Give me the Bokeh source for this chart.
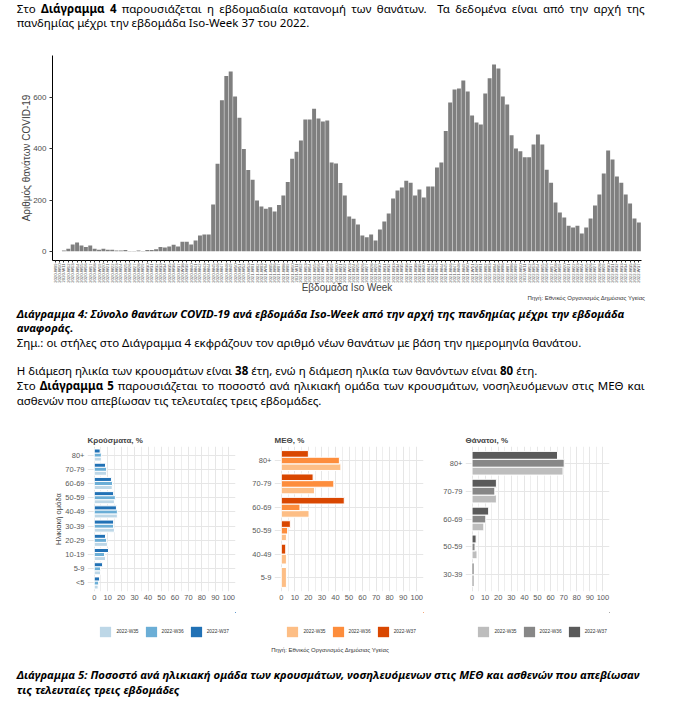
import math
from bokeh.plotting import figure
from bokeh.models import (FactorRange, Range1d, FixedTicker, ColumnDataSource, Div,
                          Legend, LegendItem)
from bokeh.layouts import column, row
from bokeh.embed import file_html
from bokeh.resources import INLINE

# ---------------- data: weekly deaths ----------------
years = [2020, 2021, 2022]
first_week = {2020: 9, 2021: 1, 2022: 1}
last_week = {2020: 53, 2021: 52, 2022: 37}
weeks = [f"{y}-W{w:02d}" for y in years for w in range(first_week[y], last_week[y] + 1)]

deaths = [0, 0,
          3, 10, 26, 34, 22, 16, 22, 10, 6, 10, 6, 6, 3, 3, 5, 1, 1, 3, 1, 5,
          5, 8, 16, 14, 18, 25, 18, 37, 37, 26, 42, 61, 65, 65, 183, 342, 590, 685,
          703, 605, 522, 400, 318, 279, 198, 175, 166, 172, 155, 181, 218, 271, 362, 389,
          433, 515, 515, 557, 519, 507, 511, 347, 343, 267, 218, 136, 127, 104, 61, 55,
          65, 42, 85, 116, 147, 206, 237, 249, 276, 268, 218, 241, 210, 253, 253, 327,
          347, 470, 582, 632, 636, 668, 625, 531, 503, 496, 617, 676, 730, 715, 605, 574,
          453, 402, 391, 367, 367, 417, 456, 417, 319, 268, 190, 151, 132, 100, 93, 100,
          69, 93, 128, 179, 222, 304, 394, 359, 292, 268, 222, 187, 128, 112]

# ---------------- data: age distributions (top -> bottom) ----------------
week_labels = ["2022-W35", "2022-W36", "2022-W37"]

cases_ages = ["80+", "70-79", "60-69", "50-59", "40-49", "30-39", "20-29", "10-19", "5-9", "<5"]
cases_w35 = [5.3, 9.2, 13.4, 15.0, 17.2, 15.0, 9.8, 8.4, 4.7, 2.9]
cases_w36 = [5.3, 9.2, 13.6, 15.7, 17.2, 14.4, 9.2, 7.7, 4.7, 3.3]
cases_w37 = [4.4, 8.4, 12.8, 14.4, 16.5, 14.4, 8.4, 10.6, 6.2, 4.0]

icu_ages = ["80+", "70-79", "60-69", "50-59", "40-49", "5-9"]
icu_w35 = [44.0, 24.5, 20.5, 3.8, 3.8, 3.8]
icu_w36 = [42.9, 38.8, 13.8, 4.7, None, None]
icu_w37 = [20.0, 23.5, 46.5, 6.7, 3.3, None]

death_ages = ["80+", "70-79", "60-69", "50-59", "30-39"]
death_w35 = [69.5, 18.6, 9.0, 3.8, None]
death_w36 = [70.4, 17.4, 10.5, 2.3, 1.5]
death_w37 = [65.3, 18.6, 12.7, 3.1, 1.5]

blues = ["#bdd7e7", "#6baed6", "#2171b5"]
oranges = ["#fdbe85", "#fd8d3c", "#d94701"]
greys = ["#bdbdbd", "#878787", "#5a5a5a"]

CHART_FONT = "Liberation Sans"
BODY_FONT = "'Noto Sans', sans-serif"
W = 692


# ---------------- text helpers ----------------
def txt(s, cy, top0, x=16.7, size=11.5, bold=False, italic=False, width=None,
        align="left", lh=12, family=BODY_FONT, color="#000"):
    st = ["position:absolute", f"left:{x:.1f}px", f"top:{cy - top0 - lh / 2:.1f}px",
          f"font-family:{family}", f"font-size:{size}px", f"line-height:{lh}px",
          f"color:{color}", "margin:0", "padding:0"]
    if bold:
        st.append("font-weight:bold")
    if italic:
        st.append("font-style:italic")
    if width is not None:
        st.append(f"width:{width}px")
    if align == "justify":
        st.append("text-align:justify;text-align-last:justify")
    else:
        st.append(f"text-align:{align};white-space:nowrap")
    return f'<div style="{";".join(st)}">{s}</div>'


def block(lines, h):
    html = (f'<div style="position:relative;width:{W}px;height:{h}px;overflow:visible">'
            + "".join(lines) + "</div>")
    return Div(text=html, width=W, height=h, margin=0)


# ---------------- top paragraph (page y 0-36) ----------------
d1_top, d1_h = 0, 36
div1 = block([
    txt("Στο <b>Διάγραμμα 4</b> παρουσιάζεται η εβδομαδιαία κατανομή των θανάτων.&nbsp; "
        "Τα δεδομένα είναι από την αρχή της", 9, d1_top, width=628, align="justify"),
    txt("πανδημίας μέχρι την εβδομάδα Iso-Week 37 του 2022.", 23, d1_top),
], d1_h)

# ---------------- main weekly chart (page y 36-300) ----------------
p = figure(width=W, height=264,
           x_range=FactorRange(factors=weeks, range_padding=0.1, range_padding_units="absolute"),
           y_range=Range1d(-36.4, 765.4),
           output_backend="svg", toolbar_location=None,
           min_border_left=52, min_border_right=51, min_border_top=19, min_border_bottom=40)
p.vbar(x="week", top="deaths", width=0.9,
       source=ColumnDataSource(dict(week=weeks, deaths=deaths)),
       fill_color="#7f7f7f", line_color=None)
p.outline_line_color = None
p.grid.grid_line_color = None

xa = p.xaxis[0]
xa.major_label_orientation = math.pi / 2
xa.major_label_text_font = CHART_FONT
xa.major_label_text_font_size = "4.2px"
xa.major_label_text_color = "#4d4d4d"
xa.major_label_standoff = 1
xa.major_tick_out = 2
xa.major_tick_in = 0
xa.major_tick_line_color = "#333333"
xa.axis_line_color = "black"
xa.axis_label = "Εβδομάδα Iso Week"
xa.axis_label_text_font = CHART_FONT
xa.axis_label_text_font_size = "10px"
xa.axis_label_text_font_style = "normal"
xa.axis_label_standoff = -4

ya = p.yaxis[0]
ya.ticker = FixedTicker(ticks=[0, 200, 400, 600])
ya.minor_tick_line_color = None
ya.major_tick_out = 3
ya.major_tick_in = 0
ya.major_tick_line_color = "#333333"
ya.axis_line_color = "black"
ya.major_label_text_font = CHART_FONT
ya.major_label_text_font_size = "8px"
ya.major_label_text_color = "#4d4d4d"
ya.major_label_standoff = 3
ya.axis_label = "Αριθμός θανάτων COVID-19"
ya.axis_label_text_font = CHART_FONT
ya.axis_label_text_font_size = "10px"
ya.axis_label_text_font_style = "normal"
ya.axis_label_standoff = -2

# ---------------- middle paragraphs (page y 300-420) ----------------
d2_top, d2_h = 300, 120
src_txt = "Πηγή: Εθνικός Οργανισμός Δημόσιας Υγείας"
div2 = block([
    txt(src_txt, 298, d2_top, x=445, width=200, align="right", size=6, lh=7,
        family=f"'{CHART_FONT}'", color="#333"),
    txt("Διάγραμμα 4: Σύνολο θανάτων COVID-19 ανά εβδομάδα Iso-Week από την αρχή της "
        "πανδημίας μέχρι την εβδομάδα", 313.5, d2_top, size=11.3, bold=True, italic=True),
    txt("αναφοράς.", 327.5, d2_top, size=11.3, bold=True, italic=True),
    txt("Σημ.: οι στήλες στο Διάγραμμα 4 εκφράζουν τον αριθμό νέων θανάτων με βάση την "
        "ημερομηνία θανάτου.", 343, d2_top),
    txt("Η διάμεση ηλικία των κρουσμάτων είναι <b>38</b> έτη, ενώ η διάμεση ηλικία των "
        "θανόντων είναι <b>80</b> έτη.", 370.5, d2_top),
    txt("Στο <b>Διάγραμμα 5</b> παρουσιάζεται το ποσοστό ανά ηλικιακή ομάδα των κρουσμάτων, "
        "νοσηλευόμενων στις ΜΕΘ και", 385.5, d2_top, width=628, align="justify"),
    txt("ασθενών που απεβίωσαν τις τελευταίες τρεις εβδομάδες.", 400.5, d2_top),
], d2_h)

# ---------------- small charts (page y 420-612) + legends (612-645) ----------------
GW = 0.85


def small(title, ages, s35, s36, s37, colors, width, mb_left, mb_right, ylabel=None):
    n = len(ages)
    f = figure(width=width, height=192, x_range=Range1d(-5, 105),
               y_range=Range1d(0.4, n + 0.6),
               output_backend="svg", toolbar_location=None,
               min_border_left=mb_left, min_border_right=mb_right,
               min_border_top=26, min_border_bottom=21)
    series = [s35, s36, s37]
    data = [dict(y=[], h=[], v=[]) for _ in range(3)]
    for i in range(n):
        vals = [s[i] for s in series]
        present = [k for k in range(3) if vals[k] is not None]
        m = len(present)
        for j, k in enumerate(present):
            data[k]["y"].append(n - i - GW / 2 + GW / m * (j + 0.5))
            data[k]["h"].append(GW / m)
            data[k]["v"].append(vals[k])
    sources = [ColumnDataSource(d) for d in data]
    for k in range(3):
        f.hbar(y="y", height="h", left=0, right="v", source=sources[k],
               fill_color=colors[k], line_color="white", line_width=1)

    f.outline_line_color = None
    f.title.text = title
    f.title.text_font = CHART_FONT
    f.title.text_font_size = "8px"
    f.title.text_font_style = "bold"
    f.title.align = "left"
    f.title.standoff = 3

    xa = f.xaxis[0]
    xa.ticker = FixedTicker(ticks=list(range(0, 101, 10)), minor_ticks=list(range(5, 100, 10)))
    xa.axis_line_color = None
    xa.major_tick_line_color = None
    xa.minor_tick_line_color = None
    xa.major_tick_out = 0
    xa.minor_tick_out = 0
    xa.major_label_text_font = CHART_FONT
    xa.major_label_text_font_size = "7.5px"
    xa.major_label_text_color = "#595959"
    xa.major_label_standoff = 3

    ya = f.yaxis[0]
    ya.ticker = FixedTicker(ticks=list(range(1, n + 1)))
    ya.major_label_overrides = {n - i: a for i, a in enumerate(ages)}
    ya.axis_line_color = None
    ya.major_tick_line_color = None
    ya.minor_tick_line_color = None
    ya.major_tick_out = 0
    ya.minor_tick_out = 0
    ya.major_label_text_font = CHART_FONT
    ya.major_label_text_font_size = "7.5px"
    ya.major_label_text_color = "#595959"
    ya.major_label_standoff = 3
    if ylabel:
        ya.axis_label = ylabel
        ya.axis_label_text_font = CHART_FONT
        ya.axis_label_text_font_size = "7.5px"
        ya.axis_label_text_font_style = "normal"
        ya.axis_label_standoff = -1

    f.xgrid.grid_line_color = "#e6e6e6"
    f.xgrid.minor_grid_line_color = "#eeeeee"
    f.ygrid.grid_line_color = "#e6e6e6"

    # legend panel: same series drawn with ranges far out of view, only legend shows
    lf = figure(width=width, height=33, x_range=Range1d(-1000, -999),
                y_range=Range1d(-1000, -999),
                x_axis_type=None, y_axis_type=None, output_backend="svg",
                toolbar_location=None, min_border=0)
    lf.outline_line_color = None
    lf.grid.visible = False
    keys = [lf.hbar(y="y", height="h", left=0, right="v", source=sources[k],
                    fill_color=colors[k], line_color=None) for k in range(3)]
    leg = Legend(items=[LegendItem(label=l, renderers=[r]) for l, r in zip(week_labels, keys)],
                 orientation="horizontal", location=(11.4, 7),
                 glyph_width=14, glyph_height=13, label_height=13, label_width=20,
                 label_text_font=CHART_FONT, label_text_font_size="4.8px",
                 label_text_color="#333333", label_standoff=4, spacing=5,
                 padding=0, margin=0, border_line_color=None, background_fill_alpha=0)
    lf.add_layout(leg)
    return column(f, lf, spacing=0, margin=0)


c1 = small("Κρούσματα, %", cases_ages, cases_w35, cases_w36, cases_w37, blues,
           245, 87, 10, ylabel="Ηλικιακή ομάδα")
c2 = small("ΜΕΘ, %", icu_ages, icu_w35, icu_w36, icu_w37, oranges, 195, 29, 17)
c3 = small("Θάνατοι, %", death_ages, death_w35, death_w36, death_w37, greys, 252, 20, 83)
charts = row(c1, c2, c3, spacing=0, margin=0)

# ---------------- bottom caption (page y 645-700) ----------------
d3_top, d3_h = 645, 55
div3 = block([
    txt(src_txt, 650.5, d3_top, x=230, width=200, align="center", size=6, lh=7,
        family=f"'{CHART_FONT}'", color="#333"),
    txt("Διάγραμμα 5: Ποσοστό ανά ηλικιακή ομάδα των κρουσμάτων, νοσηλευόμενων στις ΜΕΘ "
        "και ασθενών που απεβίωσαν", 675, d3_top, size=11.3, bold=True, italic=True),
    txt("τις τελευταίες τρεις εβδομάδες", 689.5, d3_top, size=11.3, bold=True, italic=True),
], d3_h)

layout = column(div1, p, div2, charts, div3, spacing=0, margin=0)

with open("out.html", "w", encoding="utf-8") as fh:
    fh.write(file_html(layout, INLINE, title="COVID-19"))
